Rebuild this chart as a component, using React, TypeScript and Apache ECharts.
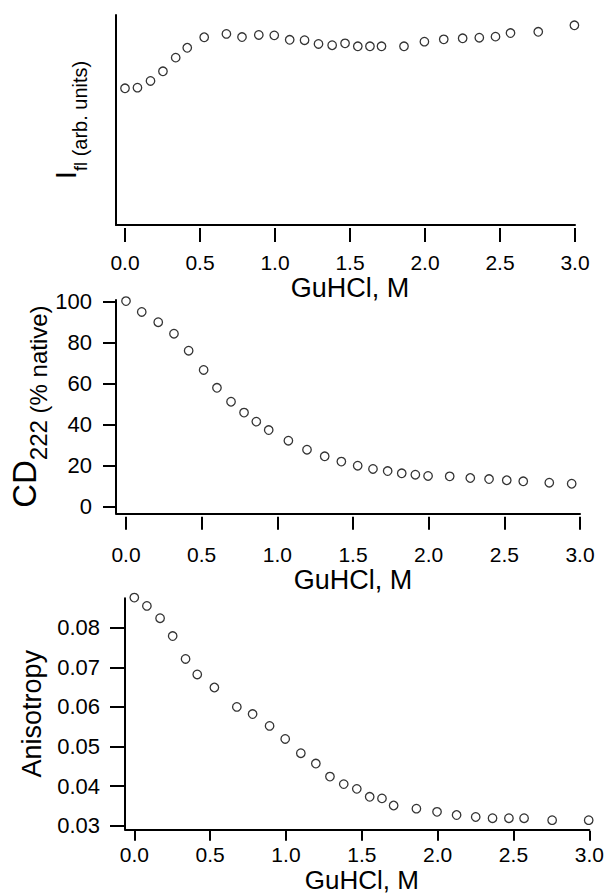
import React, { useEffect, useRef } from 'react';
import * as echarts from 'echarts';

// GuHCl concentrations (M) shared by the fluorescence and anisotropy panels
const GUHCL_FL_ANISO = [0, 0.083, 0.17, 0.253, 0.338, 0.415, 0.528, 0.676, 0.78, 0.892, 0.995, 1.098, 1.197, 1.29, 1.381, 1.467, 1.552, 1.633, 1.71, 1.86, 1.996, 2.125, 2.251, 2.362, 2.47, 2.57, 2.755, 2.996];
// Fluorescence intensity (arb. units)
const FLUORESCENCE = [0.651, 0.654, 0.686, 0.732, 0.797, 0.844, 0.894, 0.91, 0.895, 0.905, 0.903, 0.882, 0.88, 0.862, 0.856, 0.865, 0.851, 0.851, 0.851, 0.851, 0.873, 0.884, 0.889, 0.892, 0.897, 0.914, 0.92, 0.951];
// GuHCl concentrations (M) for the CD panel
const GUHCL_CD = [0, 0.104, 0.213, 0.317, 0.414, 0.513, 0.601, 0.694, 0.78, 0.861, 0.943, 1.073, 1.196, 1.313, 1.423, 1.531, 1.632, 1.729, 1.822, 1.912, 1.996, 2.139, 2.275, 2.399, 2.516, 2.625, 2.797, 2.945];
// CD222 (% native)
const CD222 = [100.3, 95.0, 90.0, 84.4, 76.1, 66.7, 58.0, 51.2, 45.9, 41.5, 37.4, 32.2, 27.8, 24.6, 22.0, 20.0, 18.4, 17.4, 16.3, 15.6, 15.0, 14.8, 14.0, 13.5, 12.9, 12.4, 11.7, 11.2];
// Anisotropy
const ANISOTROPY = [0.0876, 0.0855, 0.0824, 0.0779, 0.0721, 0.0682, 0.0649, 0.06, 0.0582, 0.0552, 0.0519, 0.0483, 0.0457, 0.0424, 0.0405, 0.0393, 0.0373, 0.0369, 0.0351, 0.0343, 0.0335, 0.0327, 0.0322, 0.0319, 0.0319, 0.0319, 0.0314, 0.0314];

// Tick settings
const X_TICKS = { min: 0, max: 3, interval: 0.5 };
const CD_TICKS = { min: 0, max: 100, interval: 20 };
const ANISO_TICKS = { min: 0.03, max: 0.08, interval: 0.01 };

const X_TITLE = 'GuHCl, M';

const FONT = "'Liberation Sans', Arial, Helvetica, sans-serif";
const BLACK = '#000';

type Geo = {
  aL: number; aT: number; aR: number; aB: number;
  bL: number; bT: number; bR: number; bB: number;
  xOff: number; xTick: number; xLabelMargin: number; xLabelSize: number; xNameGap: number; xNameSize: number;
  yOff: number; yTick: number; yLabelMargin: number;
};

const GEOS: Geo[] = [
  { aL: 116, aT: 15, aR: 575, aB: 225, bL: 125, bT: 15, bR: 575, bB: 225, xOff: 3, xTick: 14, xLabelMargin: 24, xLabelSize: 21, xNameGap: 46, xNameSize: 27, yOff: 9, yTick: 0, yLabelMargin: 0 },
  { aL: 116, aT: 300, aR: 580, aB: 513.3, bL: 126, bT: 301.7, bR: 580, bB: 506.7, xOff: 10, xTick: 13, xLabelMargin: 27, xLabelSize: 21, xNameGap: 50, xNameSize: 27, yOff: 10, yTick: 13, yLabelMargin: 24 },
  { aL: 125, aT: 598.3, aR: 589.3, aB: 829.3, bL: 134.3, bT: 627.7, bR: 589.3, bB: 825.7, xOff: 5, xTick: 10, xLabelMargin: 13, xLabelSize: 21, xNameGap: 36, xNameSize: 26, yOff: 9.3, yTick: 15, yLabelMargin: 25 },
];

const Y_NAMES = [
  {
    name: '{big|I}{sub|fl}{small| (arb. units)}',
    gap: 26,
    rich: {
      big: { fontSize: 30, lineHeight: 40, verticalAlign: 'top', fontFamily: FONT, color: BLACK },
      sub: { fontSize: 18, lineHeight: 18, verticalAlign: 'bottom', fontFamily: FONT, color: BLACK },
      small: { fontSize: 20, lineHeight: 32, verticalAlign: 'bottom', fontFamily: FONT, color: BLACK },
    },
  },
  {
    name: '{big|CD}{sub|222}{small| (% native)}',
    gap: 66,
    rich: {
      big: { fontSize: 33, lineHeight: 42, verticalAlign: 'top', fontFamily: FONT, color: BLACK },
      sub: { fontSize: 24, lineHeight: 22, verticalAlign: 'bottom', fontFamily: FONT, color: BLACK },
      small: { fontSize: 24, lineHeight: 35, verticalAlign: 'bottom', fontFamily: FONT, color: BLACK },
    },
  },
  {
    name: 'Anisotropy',
    gap: 80,
    rich: null as any,
  },
];

export default function App() {
  const ref = useRef<HTMLDivElement>(null);

  useEffect(() => {
    if (!ref.current) return;
    const chart = echarts.init(ref.current, undefined, { renderer: 'svg' });

    const grids: any[] = [];
    const xAxes: any[] = [];
    const yAxes: any[] = [];
    const series: any[] = [];

    const yRanges = [
      { min: 0, max: 1, interval: undefined as any, fmt: (v: number) => '' },
      { ...CD_TICKS, fmt: (v: number) => String(Math.round(v)) },
      { ...ANISO_TICKS, fmt: (v: number) => v.toFixed(2) },
    ];
    const datasets = [
      GUHCL_FL_ANISO.map((x, i) => [x, FLUORESCENCE[i]]),
      GUHCL_CD.map((x, i) => [x, CD222[i]]),
      GUHCL_FL_ANISO.map((x, i) => [x, ANISOTROPY[i]]),
    ];

    GEOS.forEach((g, p) => {
      const ia = grids.length;
      grids.push({ left: g.aL, top: g.aT, width: g.aR - g.aL, height: g.aB - g.aT, outerBoundsMode: 'none', containLabel: false });
      grids.push({ left: g.bL, top: g.bT, width: g.bR - g.bL, height: g.bB - g.bT, outerBoundsMode: 'none', containLabel: false });
      const ib = ia + 1;

      const lineAxis = {
        type: 'value',
        min: 0,
        max: 1,
        axisLine: { show: true, onZero: false, lineStyle: { color: BLACK, width: 2 } },
        axisTick: { show: false },
        axisLabel: { show: false },
        splitLine: { show: false },
      };
      xAxes.push({ ...lineAxis, gridIndex: ia, position: 'bottom' });
      const yn = Y_NAMES[p];
      yAxes.push({
        ...lineAxis,
        gridIndex: ia,
        position: 'left',
        name: yn.name,
        nameLocation: 'middle',
        nameGap: yn.gap,
        nameMoveOverlap: false,
        nameTextStyle: yn.rich
          ? { rich: yn.rich, color: BLACK, fontFamily: FONT }
          : { fontSize: 27, color: BLACK, fontFamily: FONT },
      });

      xAxes.push({
        type: 'value',
        gridIndex: ib,
        position: 'bottom',
        offset: g.xOff,
        min: X_TICKS.min,
        max: X_TICKS.max,
        interval: X_TICKS.interval,
        axisLine: { show: false, onZero: false },
        axisTick: { show: true, length: g.xTick, lineStyle: { color: BLACK, width: 2 } },
        axisLabel: {
          show: true,
          margin: g.xLabelMargin,
          fontSize: g.xLabelSize,
          color: BLACK,
          fontFamily: FONT,
          formatter: (v: number) => v.toFixed(1),
        },
        splitLine: { show: false },
        name: X_TITLE,
        nameLocation: 'middle',
        nameGap: g.xNameGap,
        nameMoveOverlap: false,
        nameTextStyle: { fontSize: g.xNameSize, color: BLACK, fontFamily: FONT },
      });

      const yr = yRanges[p];
      const hasTicks = p > 0;
      yAxes.push({
        type: 'value',
        gridIndex: ib,
        position: 'left',
        offset: g.yOff,
        min: yr.min,
        max: yr.max,
        interval: yr.interval,
        axisLine: { show: false, onZero: false },
        axisTick: { show: hasTicks, length: g.yTick, lineStyle: { color: BLACK, width: 2 } },
        axisLabel: {
          show: hasTicks,
          margin: g.yLabelMargin,
          fontSize: 22,
          color: BLACK,
          fontFamily: FONT,
          formatter: yr.fmt,
        },
        splitLine: { show: false },
      });

      series.push({
        type: 'scatter',
        xAxisIndex: ib,
        yAxisIndex: ib,
        data: datasets[p],
        symbol: 'circle',
        symbolSize: 8.5,
        clip: false,
        itemStyle: { color: '#fff', borderColor: BLACK, borderWidth: 1.3 },
        emphasis: { disabled: true },
      });
    });

    chart.setOption({
      animation: false,
      backgroundColor: '#fff',
      textStyle: { fontFamily: FONT },
      grid: grids,
      xAxis: xAxes,
      yAxis: yAxes,
      series,
    });

    return () => chart.dispose();
  }, []);

  return (
    <div
      ref={ref}
      style={{ position: 'absolute', left: 0, top: 0, width: 611, height: 896, background: '#fff' }}
    />
  );
}
